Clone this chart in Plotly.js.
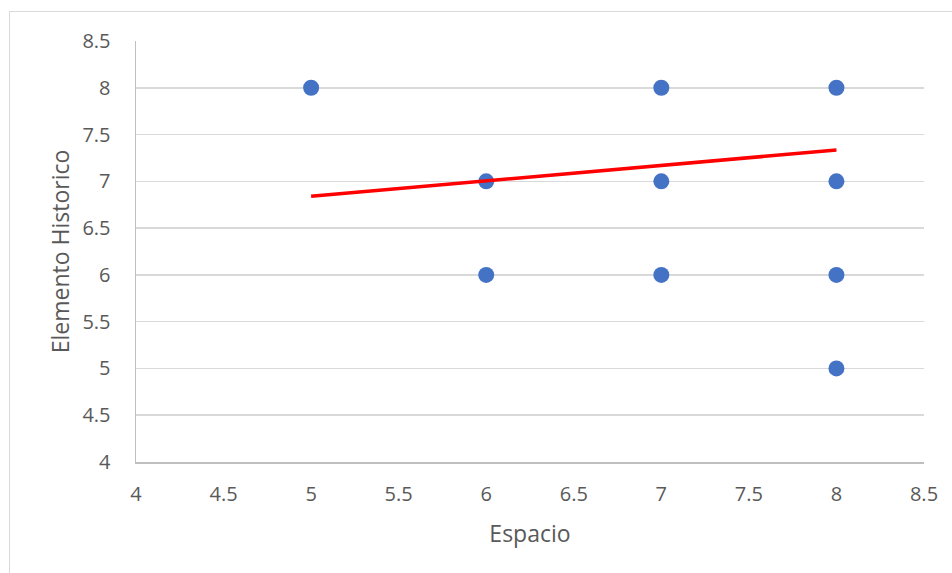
<!DOCTYPE html>
<html><head><meta charset="utf-8">
<script src="https://cdn.plot.ly/plotly-3.0.1.min.js"></script>
<style>
html,body{margin:0;padding:0;background:#fff;}
#chart{width:952px;height:573px;position:relative;}
#frame{position:absolute;left:9px;top:11px;width:960px;height:580px;border:1px solid #d9d9d9;pointer-events:none;}
</style></head>
<body>
<div id="chart"></div>
<div id="frame"></div>
<script>
const espacio = [5, 6, 6, 7, 7, 7, 8, 8, 8, 8];
const elementoHistorico = [8, 7, 6, 8, 7, 6, 8, 7, 6, 5];
const trendX = [5, 8];
const trendY = [6.84, 7.335];
const xTicks = [4, 4.5, 5, 5.5, 6, 6.5, 7, 7.5, 8, 8.5];
const yTicks = [4, 4.5, 5, 5.5, 6, 6.5, 7, 7.5, 8, 8.5];

const font = "Open Sans, Lato, sans-serif";
const data = [
  {x: espacio, y: elementoHistorico, type: 'scatter', mode: 'markers',
   marker: {color: '#4472c4', size: 16}, cliponaxis: false, hoverinfo: 'x+y'},
  {x: trendX, y: trendY, type: 'scatter', mode: 'lines',
   line: {color: '#ff0000', width: 3.5}}
];
const layout = {
  width: 952, height: 573,
  margin: {l: 136, r: 28, t: 41, b: 111},
  paper_bgcolor: 'rgba(0,0,0,0)', plot_bgcolor: '#fff',
  showlegend: false,
  font: {family: font, color: '#595959', size: 20},
  xaxis: {range: [4, 8.5], tickvals: xTicks, ticktext: xTicks.map(String),
    showgrid: false, zeroline: false, showline: true, linecolor: '#bfbfbf', linewidth: 1.5,
    ticks: 'outside', ticklen: 13, tickcolor: 'rgba(0,0,0,0)',
    tickfont: {family: font, size: 20, color: '#595959'},
    title: {text: 'Espacio', font: {family: font, size: 23, color: '#595959'}, standoff: 20}},
  yaxis: {range: [4, 8.5], tickvals: yTicks, ticktext: yTicks.map(String),
    showgrid: true, gridcolor: '#d9d9d9', gridwidth: 1.5, zeroline: false,
    showline: true, linecolor: '#bfbfbf', linewidth: 1.5,
    ticks: 'outside', ticklen: 20, tickcolor: 'rgba(0,0,0,0)',
    tickfont: {family: font, size: 20, color: '#595959'},
    title: {text: 'Elemento Historico', font: {family: font, size: 23, color: '#595959'}, standoff: 6}}
};
Plotly.newPlot('chart', data, layout, {displayModeBar: false, staticPlot: true});
</script>
</body></html>
